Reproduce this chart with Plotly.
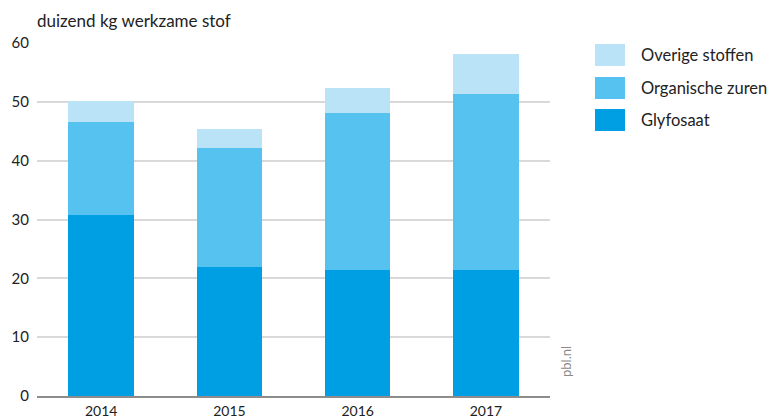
import plotly.graph_objects as go

years = ["2014", "2015", "2016", "2017"]
glyfosaat = [30.8, 21.9, 21.4, 21.4]
organische_zuren = [15.8, 20.3, 26.7, 29.9]
overige_stoffen = [3.5, 3.2, 4.3, 6.8]

series_names = ["Glyfosaat", "Organische zuren", "Overige stoffen"]
series_colors = ["#009fe3", "#56c2ef", "#bbe3f8"]
y_ticks = [0, 10, 20, 30, 40, 50, 60]

FONT = "Lato, 'Noto Sans', sans-serif"
TXT = "#222222"

L, R, T, B = 37, 224, 43, 23
W, H = 774, 419
PW, PH = W - L - R, H - T - B

def px(x):
    return (x - L) / PW

def py(y):
    return (H - B - y) / PH

fig = go.Figure()
for name, vals, col in zip(series_names, [glyfosaat, organische_zuren, overige_stoffen], series_colors):
    fig.add_trace(go.Bar(x=years, y=vals, name=name, marker=dict(color=col, line=dict(width=0)),
                         showlegend=False, hoverinfo="skip"))

fig.update_layout(
    barmode="stack",
    bargap=0.49,
    width=W, height=H,
    margin=dict(l=L, r=R, t=T, b=B, autoexpand=False),
    paper_bgcolor="white", plot_bgcolor="white",
    font=dict(family=FONT, size=15, color=TXT),
)
fig.update_xaxes(showgrid=False, showline=True, linecolor="#8c8c8c", linewidth=1.5, automargin=False,
                 ticks="", tickfont=dict(size=14, color=TXT), ticklabelstandoff=1)
fig.update_yaxes(range=[0, 60], tickvals=y_ticks, showgrid=True, gridcolor="#d9d9d9", gridwidth=1.5,
                 zeroline=False, showline=False, ticks="", automargin=False,
                 tickfont=dict(size=15, color=TXT), ticklabelstandoff=7)

# title
fig.add_annotation(xref="paper", yref="paper", x=px(35), y=py(20), xanchor="left", yanchor="middle",
                   text="duizend kg werkzame stof", showarrow=False, font=dict(size=17, color=TXT))

# custom legend (top entry = last series)
legend_rows = [(series_names[2], series_colors[2], 55),
               (series_names[1], series_colors[1], 88),
               (series_names[0], series_colors[0], 120)]
for name, col, yc in legend_rows:
    fig.add_shape(type="rect", xref="paper", yref="paper",
                  x0=px(595), x1=px(625), y0=py(yc + 11), y1=py(yc - 11),
                  fillcolor=col, line=dict(width=0))
    fig.add_annotation(xref="paper", yref="paper", x=px(639), y=py(yc),
                       xanchor="left", yanchor="middle", text=name, showarrow=False,
                       font=dict(size=16.5, color=TXT))

# source tag
fig.add_annotation(xref="paper", yref="paper", x=px(566), y=py(362),
                   xanchor="center", yanchor="middle", text="pbl.nl", textangle=-90, showarrow=False,
                   font=dict(size=13, color="#8a8a8a"))

fig.write_html("out.html", config={"displayModeBar": False},
               post_script="document.body.style.margin='0';document.body.style.overflow='hidden';")
